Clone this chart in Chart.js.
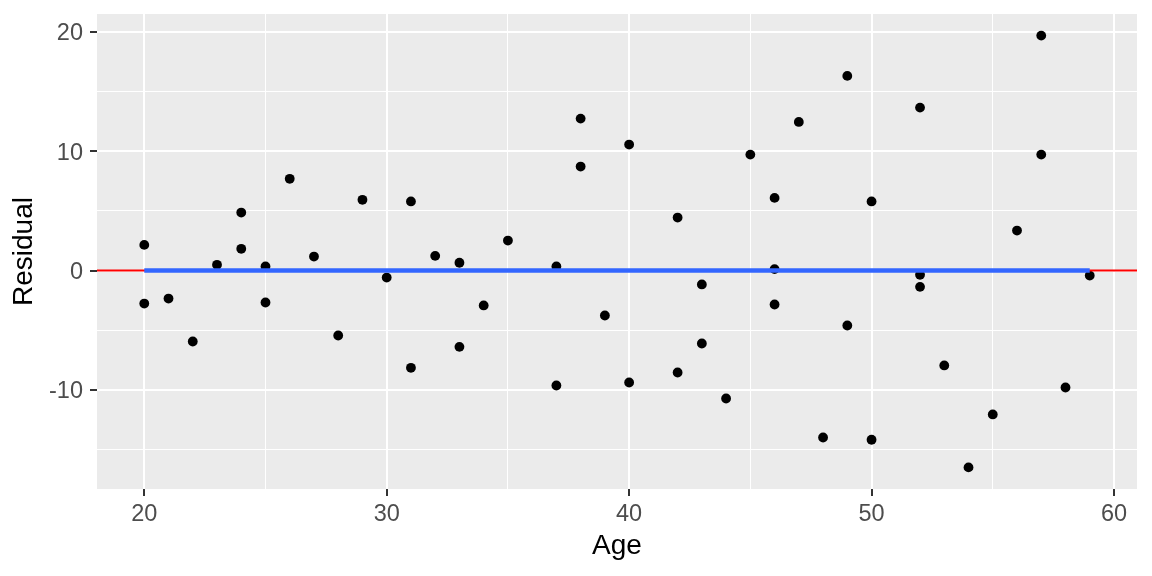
<!DOCTYPE html>
<html><head><meta charset="utf-8">
<script src="https://cdn.jsdelivr.net/npm/chart.js@4"></script>
<style>html,body{margin:0;padding:0;background:#fff}canvas{display:block}</style>
</head><body>
<canvas id="c" width="1152" height="576"></canvas>
<script>
const age = [20,20,21,22,23,24,24,25,25,26,27,28,29,30,31,31,32,33,33,34,35,37,37,38,38,39,40,40,42,42,43,43,44,45,46,46,46,47,48,49,49,50,50,52,52,52,53,54,55,56,57,57,58,59];
const residual = [2.15,-2.77,-2.35,-5.95,0.48,4.86,1.82,0.34,-2.68,7.69,1.17,-5.45,5.93,-0.59,5.79,-8.16,1.23,0.65,-6.4,-2.93,2.51,0.34,-9.64,12.74,8.72,-3.77,10.56,-9.39,4.44,-8.55,-1.17,-6.12,-10.73,9.72,6.09,0.12,-2.85,12.46,-14.0,16.32,-4.61,5.79,-14.19,13.66,-0.36,-1.37,-7.96,-16.51,-12.07,3.35,19.7,9.72,-9.81,-0.42];
const xTickLabels = [20,30,40,50,60];
const xMinorTicks = [25,35,45,55];
const yTickLabels = [-10,0,10,20];
const yMinorTicks = [-15,-5,5,15];
const smoothAge = [20,59];
const smoothFit = [0,0];
const hlineY = 0;

function expand(arr){const mn=Math.min(...arr),mx=Math.max(...arr),r=mx-mn;return [mn-0.05*r,mx+0.05*r];}
const [X_MIN,X_MAX] = expand(age);
const [Y_MIN,Y_MAX] = expand(residual);

const FONT = "'Liberation Sans', Arial, sans-serif";

const panelBg = {id:'panelBg', beforeDraw(chart){const {ctx,chartArea:a}=chart;ctx.save();ctx.fillStyle='#EBEBEB';ctx.fillRect(a.left,a.top,a.right-a.left,a.bottom-a.top);ctx.restore();}};

function gridOpts(major){
  return {
    color:'#FFFFFF',
    lineWidth: c => (c.tick && major.includes(c.tick.value)) ? 2 : 1,
    drawTicks:true, tickLength:7,
    tickWidth: c => (c.tick && major.includes(c.tick.value)) ? 2 : 1,
    tickColor: c => (c.tick && major.includes(c.tick.value)) ? '#333333' : 'rgba(0,0,0,0)'
  };
}

new Chart(document.getElementById('c'), {
  type:'scatter',
  data:{datasets:[
    {label:'smooth', data: smoothAge.map((a,i)=>({x:a,y:smoothFit[i]})), showLine:true, borderColor:'#3366FF', borderWidth:4.3, pointRadius:0, order:1},
    {label:'hline', data:[{x:X_MIN,y:hlineY},{x:X_MAX,y:hlineY}], showLine:true, borderColor:'#FF0000', borderWidth:2, pointRadius:0, order:2},
    {label:'resid', data: age.map((a,i)=>({x:a,y:residual[i]})), pointRadius:4.9, pointHoverRadius:4.9, backgroundColor:'#000000', borderWidth:0, order:3}
  ]},
  options:{
    responsive:false, animation:false, devicePixelRatio:1,
    layout:{padding:{top:14,right:15,left:0,bottom:0}},
    plugins:{legend:{display:false}, tooltip:{enabled:false}},
    scales:{
      x:{type:'linear', min:X_MIN, max:X_MAX,
        afterBuildTicks: s => { s.ticks = [...xTickLabels, ...xMinorTicks].sort((a,b)=>a-b).map(v=>({value:v})); },
        afterFit: s => { s.height = 87; s.paddingLeft = 0; s.paddingRight = 0; s.paddingTop = 0; s.paddingBottom = 0; },
        ticks:{autoSkip:false, maxRotation:0, padding:4, color:'#4D4D4D', font:{family:FONT,size:23.5}, callback: v => xTickLabels.includes(v) ? String(v) : ''},
        grid: gridOpts(xTickLabels),
        border:{display:false},
        title:{display:true, text:'Age', color:'#000000', font:{family:FONT,size:28}, padding:{top:0,bottom:13}}
      },
      y:{type:'linear', min:Y_MIN, max:Y_MAX,
        afterBuildTicks: s => { s.ticks = [...yTickLabels, ...yMinorTicks].sort((a,b)=>a-b).map(v=>({value:v})); },
        afterFit: s => { s.width = 97; s.paddingLeft = 0; s.paddingRight = 0; s.paddingTop = 0; s.paddingBottom = 0; },
        ticks:{autoSkip:false, padding:7, labelOffset:2, color:'#4D4D4D', font:{family:FONT,size:23.5}, callback: v => yTickLabels.includes(v) ? String(v) : ''},
        grid: gridOpts(yTickLabels),
        border:{display:false},
        title:{display:true, text:'Residual', color:'#000000', font:{family:FONT,size:28}, padding:{top:7,bottom:0}}
      }
    }
  },
  plugins:[panelBg]
});
</script>
</body></html>
